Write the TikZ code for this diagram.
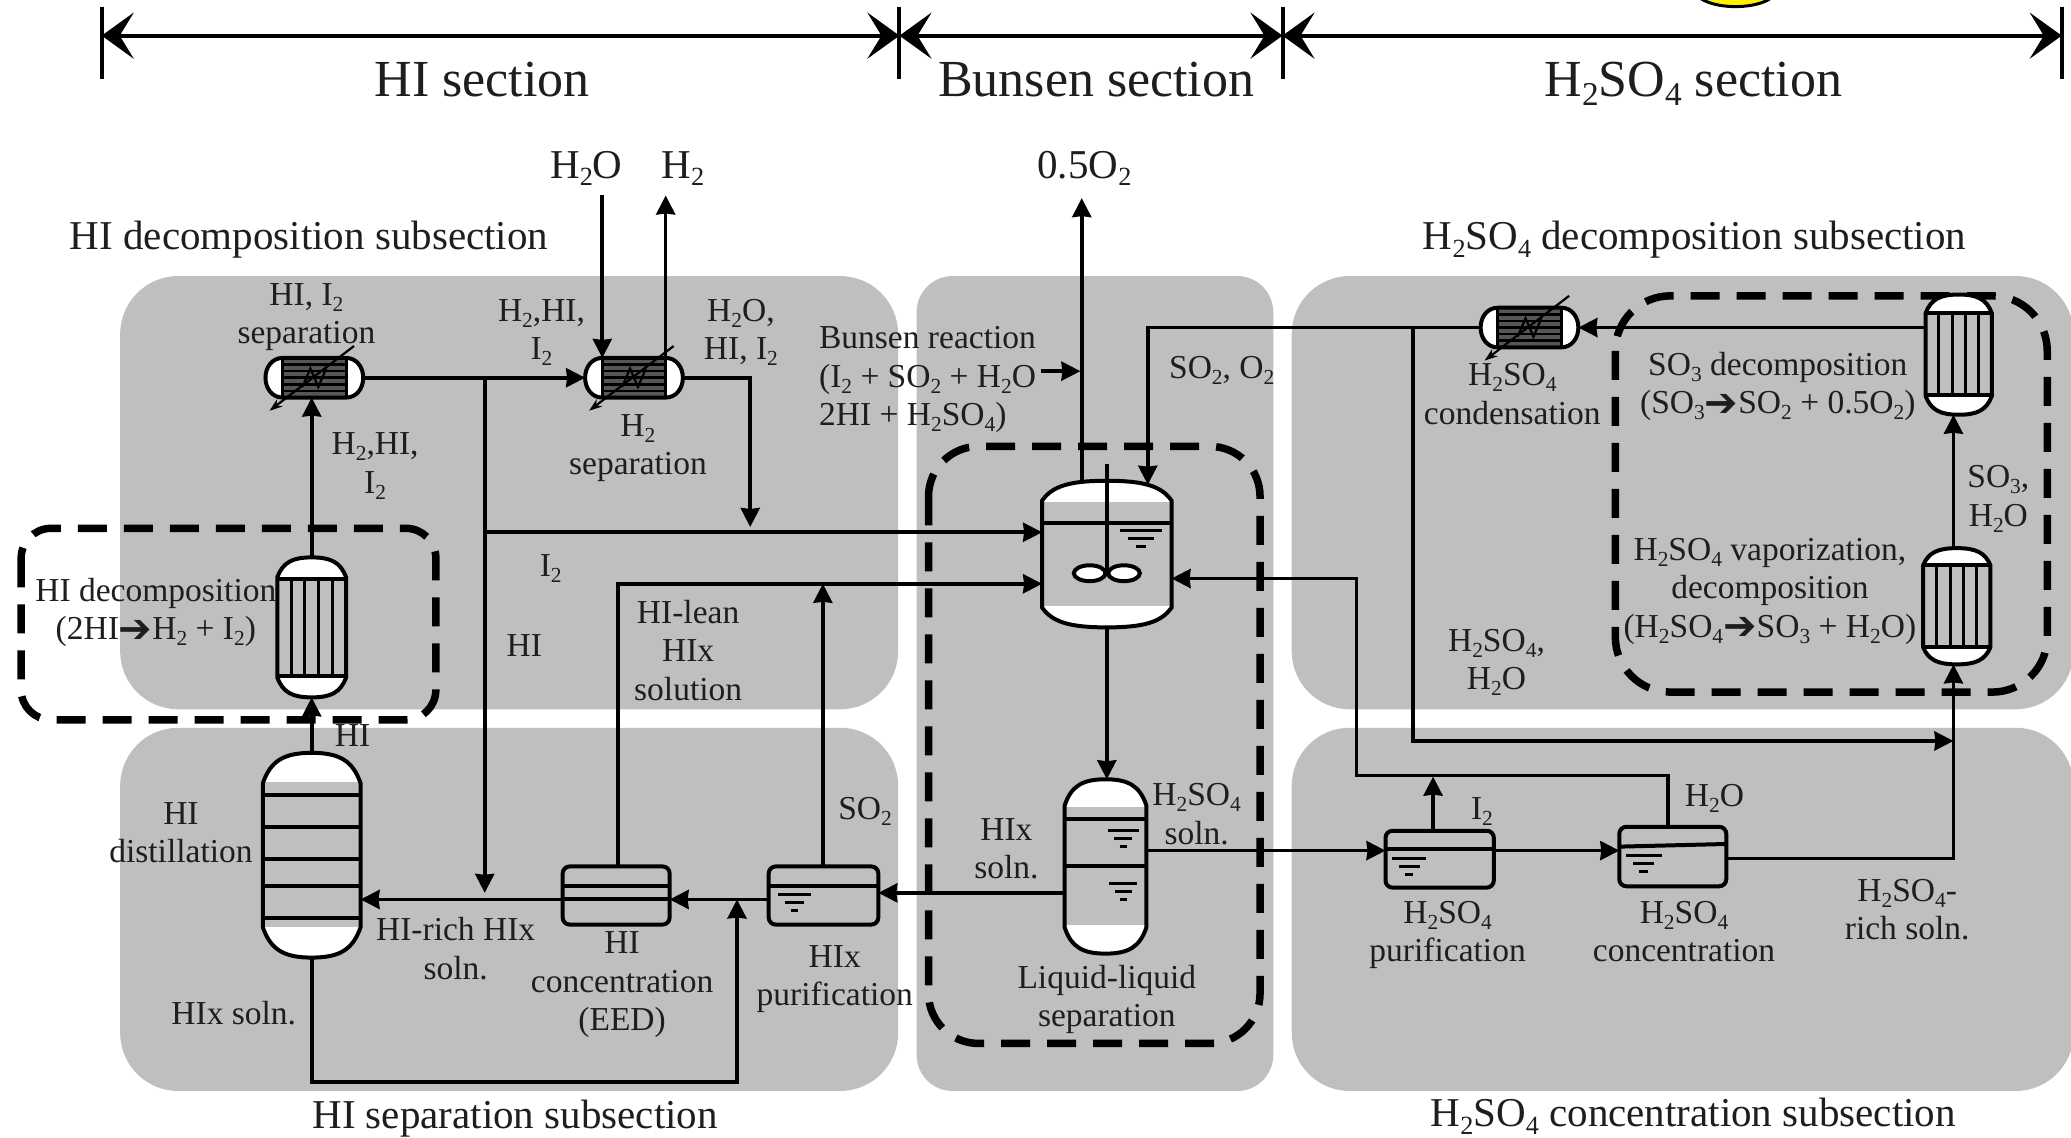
\documentclass[tikz,border=0pt]{standalone}
\usepackage{fontspec}
\setmainfont{Liberation Serif}
\newfontfamily\symf{DejaVu Sans}
\usetikzlibrary{arrows.meta,fit,calc}
\definecolor{panel}{HTML}{BFBFBF}
\definecolor{ink}{HTML}{1E1E1E}
\newcommand\sbs[1]{\smash{\raisebox{-0.18em}{\scalebox{0.64}{#1}}}}
\newcommand\rarr{{\symf\fontsize{40}{26}\selectfont\raisebox{-0.06em}{➔}}}
\tikzset{
  flow/.style={line width=3.6pt,draw=black,-{Stealth[length=19pt,width=19pt,inset=1pt]}},
  shell/.style={line width=4pt,draw=black},
  dim/.style={line width=4pt,draw=black,{Stealth[length=32pt,width=46pt,inset=14pt]}-{Stealth[length=32pt,width=46pt,inset=14pt]}},
  tick/.style={line width=4pt,draw=black},
  loop/.style={line width=7.5pt,draw=black,dash pattern=on 29pt off 17pt},
  area/.style={fill=panel,draw=none},
  % with fixed text height and depth a node centres on the cap height of its LAST line
  lab/.style={font=\fontsize{33.5}{38.5}\selectfont,align=center,inner sep=0pt,text=ink,text height=22pt,text depth=0pt},
  sublab/.style={font=\fontsize{41}{46}\selectfont,align=center,inner sep=0pt,text=ink,text height=27pt,text depth=0pt},
  seclab/.style={font=\fontsize{52}{58}\selectfont,align=center,inner sep=0pt,text=ink,text height=34pt,text depth=0pt},
  port/.style={inner sep=0pt,outer sep=0pt,draw=none}
}
% invisible port box of an item of equipment
\newcommand\eqbox[5]{\node[port,fit={(#2,#3) (#4,#5)}] (#1) {};}
% domed vessel: x1,y1,x2,y2,dome height,top white end,bottom white start
\newcommand\vessel[7]{%
  \pgfmathsetmacro\vw{#3-#1}\pgfmathsetmacro\vm{(#1+#3)/2}%
  \def\vout{(#1,#2+#5) .. controls (#1+0.08*\vw,#2+0.25*#5) and (\vm-0.28*\vw,#2) .. (\vm,#2) .. controls (\vm+0.28*\vw,#2) and (#3-0.08*\vw,#2+0.25*#5) .. (#3,#2+#5) -- (#3,#4-#5) .. controls (#3-0.08*\vw,#4-0.25*#5) and (\vm+0.28*\vw,#4) .. (\vm,#4) .. controls (\vm-0.28*\vw,#4) and (#1+0.08*\vw,#4-0.25*#5) .. (#1,#4-#5) -- cycle}%
  \fill[white] \vout;
  \fill[panel] (#1,#6) rectangle (#3,#7);
  \draw[shell] \vout;
}
% tube reactor with tube sheet lines
\newcommand\tubes[7]{%
  \vessel{#1}{#2}{#3}{#4}{#5}{#6}{#7}%
  \draw[shell] (#1,#6) -- (#3,#6) (#1,#7) -- (#3,#7);
  \foreach \k in {1,2,3,4}{\draw[line width=3pt] ({#1+\k*(#3-#1)/5},#6) -- ({#1+\k*(#3-#1)/5},#7);}
}
% heat exchanger centred on (cx,cy)
\newcommand\hxer[2]{%
  \def\hout{(#1-24,#2-15) -- (#1+24,#2-15) .. controls (#1+32,#2-15) and (#1+37,#2-8) .. (#1+37,#2) .. controls (#1+37,#2+8) and (#1+32,#2+15) .. (#1+24,#2+15) -- (#1-24,#2+15) .. controls (#1-32,#2+15) and (#1-37,#2+8) .. (#1-37,#2) .. controls (#1-37,#2-8) and (#1-32,#2-15) .. (#1-24,#2-15) -- cycle}%
  \fill[white] \hout;
  \fill[panel!45!black] (#1-24,#2-15) rectangle (#1+24,#2+15);
  \foreach \k in {-10,-5,0,5,10}{\draw[line width=2.6pt,black] (#1-24,#2+\k) -- (#1+24,#2+\k);}
  \draw[shell] \hout;
  \draw[line width=3pt] (#1-24,#2-15) -- (#1-24,#2+15) (#1+24,#2-15) -- (#1+24,#2+15);
  \draw[line width=2.2pt,-{Stealth[length=13pt,width=9pt,open,fill=white]}] (#1+30,#2-24) -- (#1-34,#2+25);
  \draw[line width=2.2pt] (#1-9,#2+7) -- (#1-3,#2-7) -- (#1+3,#2+7) -- (#1+9,#2-7);
}
% liquid level sign
\newcommand\lvl[3]{%
  \draw[line width=3pt] (#1,#3) -- (#2,#3);
  \draw[line width=3pt] ({#1+0.2*(#2-#1)},#3+6) -- ({#2-0.2*(#2-#1)},#3+6);
  \draw[line width=3pt] ({#1+0.38*(#2-#1)},#3+12) -- ({#2-0.38*(#2-#1)},#3+12);
}
\begin{document}
\begin{tikzpicture}[x=1.3208pt,y=-1.3208pt]
\useasboundingbox (0,0) rectangle (1568,861);
\begin{scope}
\clip (0,0) rectangle (1568,861);
\fill[white] (0,0) rectangle (1568,861);
\draw[line width=3pt,fill=yellow] (1314,-8) ellipse [x radius=31,y radius=13];
% panels
\fill[area,rounded corners=58pt] (91,209) rectangle (680,537);
\fill[area,rounded corners=58pt] (91,551) rectangle (680,826);
\fill[area,rounded corners=36pt] (694,209) rectangle (964,826);
\fill[area,rounded corners=58pt] (978,209) rectangle (1570,537);
\fill[area,rounded corners=58pt] (978,551) rectangle (1570,826);
\end{scope}
% section dimension lines
\coordinate (t0) at (77,27);
\coordinate (t1) at (681,27);
\coordinate (t2) at (971,27);
\coordinate (t3) at (1561,27);
\foreach \c in {77,681,971,1561}{\draw[tick] (\c,5) -- (\c,60);}
\draw[dim] (t0) -- (t1);
\draw[dim] (t1) -- (t2);
\draw[dim] (t2) -- (t3);
% equipment port boxes
\eqbox{hxa}{201}{271}{275}{301}
\eqbox{hxb}{443}{271}{517}{301}
\eqbox{hxc}{1121}{233}{1195}{263}
\eqbox{ra}{210}{422}{262}{528}
\eqbox{col}{199}{570}{273}{725}
\eqbox{eed}{426}{656}{507}{700}
\eqbox{pur}{582}{656}{665}{700}
\eqbox{bun}{789}{364}{887}{475}
\eqbox{ll}{806}{590}{868}{722}
\eqbox{hsp}{1049}{629}{1131}{672}
\eqbox{hsc}{1226}{626}{1307}{671}
\eqbox{rb}{1458}{223}{1508}{314}
\eqbox{rc}{1456}{415}{1507}{503}
% junctions and free ends
\coordinate (h2oin) at (456,148);
\coordinate (h2out) at (504,148);
\coordinate (o2out) at (819,150);
\coordinate (hiv) at (367,286);
\coordinate (hib) at (367,676);
\coordinate (i2j) at (367,403);
\coordinate (mix) at (568,399);
\coordinate (lean) at (468,442);
\coordinate (so2t) at (623,442);
\coordinate (mainy) at (0,681);
\coordinate (botr) at (558,819);
\coordinate (lly) at (806,676);
\coordinate (hsy) at (868,644);
\coordinate (so2in) at (869,367);
\coordinate (o2top) at (819,367);
\coordinate (wet) at (1070,561);
\coordinate (vert) at (1479,650);
\coordinate (ret) at (1027,587);
\coordinate (rety) at (1027,438);
\coordinate (h2ot) at (1263,626);
\coordinate (i2t) at (1085,588);
\coordinate (bra) at (788,281);
\coordinate (brb) at (818,281);
% connectors
\draw[flow] (ra.north) -- (ra.north |- hxa.south);
\draw[flow] (col.north) -- (ra.south);
\draw[flow] (hxa.east) -- (hxb.west);
\draw[flow] (h2oin) -- (h2oin |- hxb.north);
\draw[flow] (h2out |- hxb.north) -- (h2out);
\draw[flow] (hxb.east) -| (mix);
\draw[flow] (hiv) -- (hib);
\draw[flow] (i2j) -- (i2j -| bun.west);
\draw[flow] (lean |- eed.north) -- (lean) -- (lean -| bun.west);
\draw[flow] (so2t |- pur.north) -- (so2t);
\draw[flow] (col.south) -- (col.south |- botr) -- (botr) -- (botr |- mainy);
\draw[flow] (lly) -- (lly -| pur.east);
\draw[flow] (mainy -| pur.west) -- (mainy -| eed.east);
\draw[flow] (mainy -| eed.west) -- (mainy -| col.east);
\draw[flow] (bun.south) -- (bun.south |- ll.north);
\draw[flow] (o2top) -- (o2out);
\draw[flow] (hxc.west) -- (hxc.west -| so2in) -- (so2in);
\draw[flow] (hxc.east -| rb.west) -- (hxc.east);
\draw[flow] (vert |- rc.north) -- (vert |- rb.south);
\draw[flow] (vert -| hsc.east) -- (vert) -- (vert |- rc.south);
\draw[flow] (hxc.west -| wet) -- (wet) -- (wet -| vert);
\draw[flow] (h2ot) -- (h2ot |- ret) -- (ret) -- (rety) -- (rety -| bun.east);
\draw[flow] (i2t |- hsp.north) -- (i2t);
\draw[flow] (hsy) -- (hsy -| hsp.west);
\draw[flow] (hsy -| hsp.east) -- (hsy -| hsc.west);
\draw[flow] (bra) -- (brb);
% dashed loops
\draw[loop,rounded corners=30pt] (16,400) rectangle (330,545);
\draw[loop,rounded corners=50pt] (703,338) rectangle (954,790);
\draw[loop,rounded corners=55pt] (1223,224) rectangle (1550,524);
% vessels
\hxer{238}{286}
\hxer{480}{286}
\hxer{1158}{248}
\tubes{210}{422}{262}{528}{15}{438}{512}
\tubes{1458}{223}{1508}{314}{14}{237}{299}
\tubes{1456}{415}{1507}{503}{13}{428}{490}
% column
\vessel{199}{570}{273}{725}{23}{592}{702}
\foreach \yy in {602,626,650,671,695}{\draw[shell] (199,\yy) -- (273,\yy);}
% reactor
\vessel{789}{364}{887}{475}{15}{380}{459}
\draw[shell] (789,396) -- (887,396);
\draw[shell] (838,351) -- (838,434);
\draw[shell,fill=white] (825,434) ellipse [x radius=12,y radius=6];
\draw[shell,fill=white] (851,434) ellipse [x radius=12,y radius=6];
\lvl{848}{880}{402}
% liquid-liquid
\vessel{806}{590}{868}{722}{20}{611}{700}
\draw[shell] (806,620) -- (868,620) (806,656) -- (868,656);
\lvl{839}{862}{629}
\lvl{840}{861}{669}
% flat vessels
\draw[shell,fill=panel,rounded corners=7pt] (426,656) rectangle (507,700);
\draw[shell] (426,671) -- (507,671) (426,681) -- (507,681);
\draw[shell,fill=panel,rounded corners=7pt] (582,656) rectangle (665,700);
\draw[shell] (582,671) -- (665,671);
\lvl{589}{614}{677}
\draw[shell,fill=panel,rounded corners=7pt] (1049,629) rectangle (1131,672);
\draw[shell] (1049,643) -- (1131,643);
\lvl{1054}{1080}{650}
\draw[shell,fill=panel,rounded corners=7pt] (1226,626) rectangle (1307,671);
\draw[shell] (1226,641) -- (1307,639);
\lvl{1231}{1258}{648}
% section and subsection titles
\node[seclab] (sHI) at (365,60) {HI section};
\node[seclab] (sBu) at (830,60) {Bunsen section};
\node[seclab] (sSu) at (1282,60) {H\sbs{2}SO\sbs{4} section};
\node[sublab] (nH2O) at (444,125) {H\sbs{2}O};
\node[sublab] (nH2) at (517,125) {H\sbs{2}};
\node[sublab] (nO2) at (821,125) {0.5O\sbs{2}};
\node[sublab] (sub1) at (234,179) {HI decomposition subsection};
\node[sublab] (sub2) at (1283,179) {H\sbs{2}SO\sbs{4} decomposition subsection};
\node[sublab] (sub3) at (390,844) {HI separation subsection};
\node[sublab] (sub4) at (1282,843) {H\sbs{2}SO\sbs{4} concentration subsection};
% labels (y = last line)
\node[lab] (a1) at (232,252) {HI, I\sbs{2}\\separation};
\node[lab] (a2) at (410,264) {H\sbs{2},HI,\\I\sbs{2}};
\node[lab] (a3) at (561,264) {H\sbs{2}O,\\HI, I\sbs{2}};
\node[lab] (a4) at (483,351) {H\sbs{2}\\separation};
\node[lab] (a5) at (284,365) {H\sbs{2},HI,\\I\sbs{2}};
\node[lab] (a6) at (417,428) {I\sbs{2}};
\node[lab] (a7) at (397,489) {HI};
\node[lab] (a8) at (521,522) {HI-lean\\HIx\\solution};
\node[lab,anchor=west,align=left] (a9) at (620,314) {Bunsen reaction\\(I\sbs{2} + SO\sbs{2} + H\sbs{2}O\\2HI + H\sbs{2}SO\sbs{4})};
\node[lab] (a10) at (925,278) {SO\sbs{2}, O\sbs{2}};
\node[lab] (a11) at (118,476) {HI decomposition\\(2HI\rarr H\sbs{2} + I\sbs{2})};
\node[lab] (a12) at (267,557) {HI};
\node[lab] (a13) at (137,645) {HI\\distillation};
\node[lab] (a14) at (345,733) {HI-rich HIx\\soln.};
\node[lab] (a15) at (177,767) {HIx soln.};
\node[lab] (a16) at (471,772) {HI\\concentration\\(EED)};
\node[lab] (a17) at (632,753) {HIx\\purification};
\node[lab] (a18) at (655,612) {SO\sbs{2}};
\node[lab] (a19) at (762,657) {HIx\\soln.};
\node[lab] (a20) at (906,631) {H\sbs{2}SO\sbs{4}\\soln.};
\node[lab] (a21) at (838,769) {Liquid-liquid\\separation};
\node[lab] (a22) at (1145,313) {H\sbs{2}SO\sbs{4}\\condensation};
\node[lab] (a23) at (1346,305) {SO\sbs{3} decomposition\\(SO\sbs{3}\rarr SO\sbs{2} + 0.5O\sbs{2})};
\node[lab] (a24) at (1513,390) {SO\sbs{3},\\H\sbs{2}O};
\node[lab] (a25) at (1340,474) {H\sbs{2}SO\sbs{4} vaporization,\\decomposition\\(H\sbs{2}SO\sbs{4}\rarr SO\sbs{3} + H\sbs{2}O)};
\node[lab] (a26) at (1133,514) {H\sbs{2}SO\sbs{4},\\H\sbs{2}O};
\node[lab] (a27) at (1122,612) {I\sbs{2}};
\node[lab] (a28) at (1298,602) {H\sbs{2}O};
\node[lab] (a29) at (1096,720) {H\sbs{2}SO\sbs{4}\\purification};
\node[lab] (a30) at (1275,720) {H\sbs{2}SO\sbs{4}\\concentration};
\node[lab] (a31) at (1444,703) {H\sbs{2}SO\sbs{4}-\\rich soln.};
\end{tikzpicture}
\end{document}
